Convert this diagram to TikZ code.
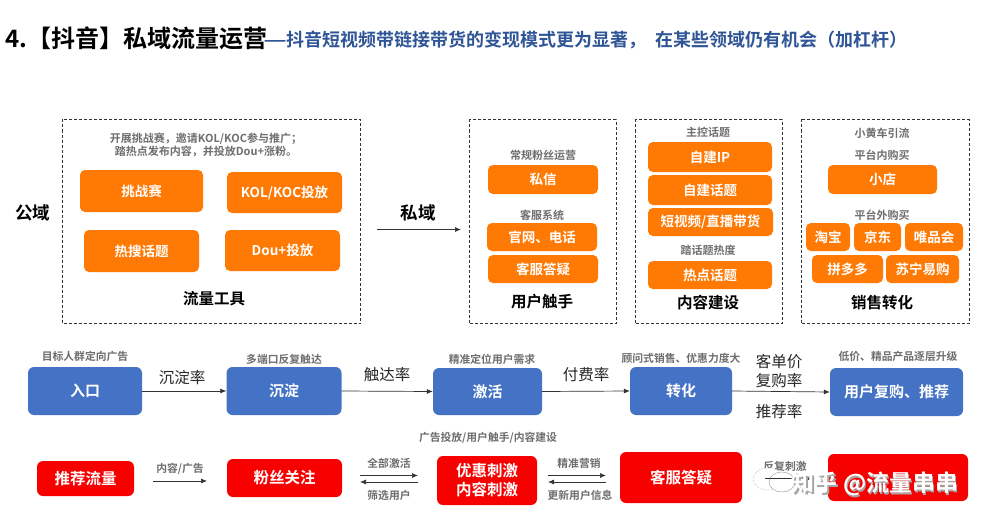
\documentclass[tikz,border=0pt]{standalone}
\usepackage{fontspec}
\setmainfont{Noto Sans CJK SC}
\newfontfamily\cjkb{Noto Sans CJK SC Bold}
\newfontfamily\cjkr{Noto Sans CJK SC}
\usetikzlibrary{arrows.meta}
\definecolor{org}{HTML}{FF7A05}
\definecolor{blu}{HTML}{4472C4}
\definecolor{rd}{HTML}{F60000}
\definecolor{gry}{HTML}{6E6E6E}
\definecolor{ttl}{HTML}{2F5597}
\tikzset{
  orange box/.style={fill=org,rounded corners=5pt,text=white,font=\cjkb\fontsize{13.5}{15}\selectfont,inner sep=0pt,align=center},
  blue box/.style={fill=blu,rounded corners=6pt,text=white,font=\cjkb\fontsize{15}{18}\selectfont,inner sep=0pt,align=center},
  red box/.style={fill=rd,rounded corners=6pt,text=white,font=\cjkb\fontsize{15.5}{19}\selectfont,inner sep=0pt,align=center},
  dash box/.style={draw=black!80,line width=0.7pt,dash pattern=on 3pt off 2pt},
  note/.style={text=gry,font=\cjkb\fontsize{11}{13.5}\selectfont,inner sep=0pt,align=center},
  head/.style={text=black,font=\cjkb\fontsize{15.5}{18}\selectfont,inner sep=0pt},
  rate/.style={text=black!85,font=\cjkr\fontsize{15.5}{19}\selectfont,inner sep=0pt,align=center},
  small/.style={text=gry,font=\cjkb\fontsize{10.8}{13}\selectfont,inner sep=0pt},
  flow/.style={draw=black!80,line width=0.7pt,-{Latex[length=6pt,width=5pt]}},
}
\newcommand{\obox}[6]{\node[orange box,minimum width=#4pt-#3pt,minimum height=#6pt-#5pt] (#1) at ({(#3+#4)/2},{(#5+#6)/2}) {#2};}
\begin{document}
\begin{tikzpicture}[x=1pt,y=-1pt]
\useasboundingbox (0,0) rectangle (987,524);
\fill[white] (0,0) rectangle (987,524);
% title
\node[anchor=west,inner sep=0pt,font=\cjkb\fontsize{24}{26}\selectfont] (ta) at (5,38.5) {4.【抖音】私域流量运营};
\node[anchor=west,inner sep=0pt,text=ttl,font=\cjkb\fontsize{18}{20}\selectfont] (tb) at (264,40) {\scalebox{0.72}[1]{——}抖音短视频带链接带货的变现模式更为显著，\kern 9pt在某些领域仍有机会（加杠杆）};
% dashed frames
\draw[dash box] (62.5,119.5) rectangle (360.5,323.5);
\draw[dash box] (469,119.5) rectangle (616,323.5);
\draw[dash box] (635,119.5) rectangle (782,323.5);
\draw[dash box] (801,119.5) rectangle (969,323.5);
% left labels
\node[head,font=\cjkb\fontsize{17.5}{19}\selectfont] (gy) at (33,213) {公域};
\node[head,font=\cjkb\fontsize{17.5}{19}\selectfont] (sy) at (418,213) {私域};
\coordinate (ga) at (377,229.5);
\coordinate (gb) at (461,229.5);
\draw[flow] (ga) -- (gb);
% traffic tools
\node[note] (n1) at (206,145) {开展挑战赛，邀请KOL/KOC参与推广；\\踏热点发布内容，并投放Dou+涨粉。};
\obox{a1}{挑战赛}{80}{203}{170}{212}
\obox{a2}{KOL/KOC投放}{227}{342}{172}{213}
\obox{a3}{热搜话题}{84}{199}{230}{272}
\obox{a4}{Dou+投放}{225}{340}{230}{271}
\node[head] (a5) at (214,299) {流量工具};
% touch
\node[note] (b0) at (543,155) {常规粉丝运营};
\obox{b1}{私信}{488}{598}{165}{194}
\node[note] (b2) at (542,215) {客服系统};
\obox{b3}{官网、电话}{487}{597}{223}{251}
\obox{b4}{客服答疑}{488}{598}{255}{283}
\node[head] (b5) at (542,302) {用户触手};
% content
\node[note] (c0) at (708,132) {主控话题};
\obox{c1}{自建IP}{648}{772}{142}{172}
\obox{c2}{自建话题}{648}{772}{175}{205}
\obox{c3}{短视频/直播带货}{648}{773}{208}{236}
\node[note] (c4) at (708,250) {踏话题热度};
\obox{c5}{热点话题}{648}{772}{261}{289}
\node[head] (c6) at (708,303) {内容建设};
% sales
\node[note] (d0) at (882,133) {小黄车引流};
\node[note] (d1) at (882,155) {平台内购买};
\obox{d2}{小店}{828}{937}{165}{194}
\node[note] (d3) at (882,215) {平台外购买};
\obox{d4}{淘宝}{806}{850}{223}{251}
\obox{d5}{京东}{854}{901}{223}{251}
\obox{d6}{唯品会}{905}{963}{223}{251}
\obox{d7}{拼多多}{812}{883}{255}{283}
\obox{d8}{苏宁易购}{886}{959}{255}{283}
\node[head] (d9) at (882,303) {销售转化};
% blue row
\node[blue box,minimum width=114pt,minimum height=48pt] (e1) at (85,391) {入口};
\node[blue box,minimum width=115pt,minimum height=48pt] (e2) at (284,391) {沉淀};
\node[blue box,minimum width=109pt,minimum height=47pt] (e3) at (487.5,391.5) {激活};
\node[blue box,minimum width=102pt,minimum height=48pt] (e4) at (681,391) {转化};
\node[blue box,minimum width=133pt,minimum height=48pt] (e5) at (896.5,392) {用户复购、推荐};
\draw[flow] (e1.east) -- (e2.west);
\draw[flow] (e2.east) -- (e3.west);
\draw[flow] (e3.east) -- (e4.west);
\draw[flow] (e4.east) -- (e5.west);
\node[small] (f1) at (85,356) {目标人群定向广告};
\node[small] (f2) at (284,359) {多端口反复触达};
\node[small] (f3) at (492,359) {精准定位用户需求};
\node[small] (f4) at (681,358) {顾问式销售、优惠力度大};
\node[small] (f5) at (898,356) {低价、精品产品逐层升级};
\node[rate] (g1) at (182,378) {沉淀率};
\node[rate] (g2) at (387,375) {触达率};
\node[rate] (g3) at (586,375) {付费率};
\node[rate] (g4) at (779,371) {客单价\\复购率};
\node[rate] (g5) at (779,412) {推荐率};
\node[small] (h0) at (488,438) {广告投放/用户触手/内容建设};
% red row
\node[red box,minimum width=97pt,minimum height=35pt] (r1) at (85.5,478.5) {推荐流量};
\node[red box,minimum width=115pt,minimum height=38pt] (r2) at (284.5,478) {粉丝关注};
\node[red box,minimum width=100pt,minimum height=49pt] (r3) at (487,480.5) {优惠刺激\\内容刺激};
\node[red box,minimum width=122pt,minimum height=51pt] (r4) at (681,477.5) {客服答疑};
\node[red box,minimum width=140pt,minimum height=47pt] (r5) at (898,477.5) {};
\coordinate (p0a) at (153,481); \coordinate (p0b) at (207,481);
\draw[flow] (p0a) -- (p0b);
\coordinate (p1a) at (360,475.5); \coordinate (p1b) at (418,475.5);
\coordinate (p2a) at (418,482); \coordinate (p2b) at (360,482);
\draw[flow] (p1a) -- (p1b);
\draw[flow] (p2a) -- (p2b);
\coordinate (p3a) at (548,475.5); \coordinate (p3b) at (606,475.5);
\coordinate (p4a) at (606,482); \coordinate (p4b) at (548,482);
\draw[flow] (p3a) -- (p3b);
\draw[flow] (p4a) -- (p4b);
\coordinate (p5a) at (765,478); \coordinate (p5b) at (813,478);
\node[small] (i1) at (180,469) {内容/广告};
\node[small] (i2) at (389,463) {全部激活};
\node[small] (i3) at (389,495) {筛选用户};
\node[small] (i4) at (579,463) {精准营销};
\node[small] (i5) at (580,495) {更新用户信息};
\node[small] (i6) at (785,466) {反复刺激};
% watermark
\draw[gray!70,densely dotted,line width=0.5pt,fill=white] (768,479) ellipse (15 and 11);
\draw[gray!70,line width=0.5pt,fill=white] (782,482) ellipse (13 and 10);
\draw[flow] (p5a) -- (p5b);
\node[inner sep=0pt,text=gray!70,font=\cjkb\fontsize{23}{25}\selectfont] (wm0) at (876.5,485.5) {知乎 @流量串串};
\node[inner sep=0pt,text=white,font=\cjkb\fontsize{23}{25}\selectfont] (wm) at (875,484) {知乎 @流量串串};
\end{tikzpicture}
\end{document}
